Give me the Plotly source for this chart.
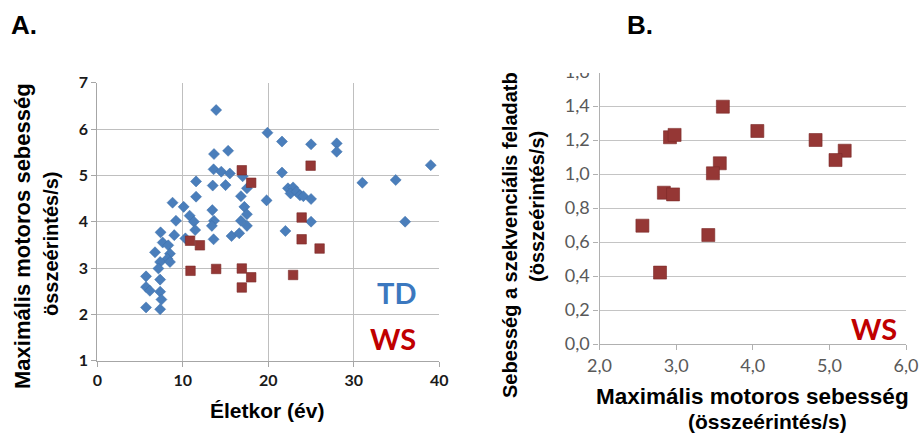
import plotly.graph_objects as go

# ---- Panel A data ----
td_age = [13.9, 19.9, 13.65, 15.3, 13.6, 14.5, 15.5, 17.0, 11.55, 13.5, 15.0, 17.5, 11.55, 16.8,
          19.8, 8.8, 10.1, 10.8, 13.45, 17.2, 17.5, 9.2, 11.3, 13.65, 13.4, 16.8, 17.5, 11.45,
          9.0, 7.4, 10.3, 13.6, 15.7, 16.6, 7.65, 8.3, 6.75, 8.5, 8.2, 7.35, 8.5, 7.15, 5.7,
          7.35, 5.7, 6.15, 7.35, 7.5, 5.7, 7.35,
          21.6, 25.0, 28.0, 28.0, 21.6, 39.0, 31.0, 34.9, 22.3, 22.9, 22.6, 23.3, 23.7, 24.1,
          25.0, 25.0, 36.0, 22.0]
td_speed = [6.41, 5.92, 5.46, 5.53, 5.13, 5.08, 5.04, 4.98, 4.87, 4.78, 4.79, 4.72, 4.54, 4.55,
            4.46, 4.41, 4.32, 4.13, 4.25, 4.32, 4.16, 4.02, 4.0, 4.02, 3.91, 4.02, 3.91, 3.82,
            3.71, 3.77, 3.64, 3.62, 3.69, 3.75, 3.55, 3.49, 3.34, 3.31, 3.20, 3.13, 3.13, 2.99, 2.82,
            2.75, 2.59, 2.51, 2.49, 2.32, 2.15, 2.11,
            5.73, 5.67, 5.69, 5.51, 5.06, 5.22, 4.84, 4.90, 4.72, 4.74, 4.61, 4.65, 4.57, 4.55,
            4.49, 4.0, 4.0, 3.80]
ws_age = [10.85, 12.0, 10.9, 13.9, 16.9, 18.0, 16.9, 18.0, 16.9, 23.9, 23.9, 26.0, 22.9, 24.95]
ws_speed = [3.59, 3.49, 2.94, 2.98, 5.11, 4.84, 2.99, 2.80, 2.58, 4.09, 3.62, 3.42, 2.85, 5.21]

# ---- Panel B data ----
wsb_motor = [3.61, 2.92, 2.98, 3.57, 3.48, 2.84, 2.96, 2.56, 3.42, 2.79, 4.06, 4.82, 5.20, 5.08]
wsb_seq = [1.396, 1.216, 1.23, 1.063, 1.004, 0.89, 0.88, 0.696, 0.641, 0.42, 1.253, 1.2, 1.137, 1.082]

a_xticks = [0, 10, 20, 30, 40]
a_yticks = [1, 2, 3, 4, 5, 6, 7]
b_xticks = [2.0, 3.0, 4.0, 5.0, 6.0]
b_yticks = [0.0, 0.2, 0.4, 0.6, 0.8, 1.0, 1.2, 1.4, 1.6]

BLUE = "#4a7ebb"
RED = "#953735"
W, H = 920, 434

fig = go.Figure()
fig.add_trace(go.Scatter(x=td_age, y=td_speed, mode="markers", xaxis="x", yaxis="y",
                         marker=dict(symbol="diamond", size=8.5, color=BLUE,
                                     line=dict(width=0.5, color="#3c6ea8")), showlegend=False))
fig.add_trace(go.Scatter(x=ws_age, y=ws_speed, mode="markers", xaxis="x", yaxis="y",
                         marker=dict(symbol="square", size=9.5, color=RED,
                                     line=dict(width=0.6, color="#7a2a28")), showlegend=False))
fig.add_trace(go.Scatter(x=wsb_motor, y=wsb_seq, mode="markers", xaxis="x2", yaxis="y2",
                         marker=dict(symbol="square", size=13, color=RED,
                                     line=dict(width=0.6, color="#7a2a28")), showlegend=False))

tickfontA = dict(family="Lato, Liberation Sans, sans-serif", size=16, color="#1a1a1a", weight=700)
tickfontB = dict(family="Lato, Liberation Sans, sans-serif", size=18, color="#595959")

fig.update_layout(
    width=W, height=H, margin=dict(l=0, r=0, t=0, b=0, autoexpand=False),
    paper_bgcolor="white", plot_bgcolor="white", separators=", ",
    xaxis=dict(domain=[97.3 / W, 439.3 / W], range=[0, 40], tickvals=a_xticks,
               showgrid=True, gridcolor="#bfbfbf", gridwidth=1.3, zeroline=False,
               showline=True, linecolor="#a6a6a6", linewidth=1.3, mirror=False,
               ticks="outside", ticklen=5, tickcolor="#a6a6a6", tickfont=tickfontA,
               anchor="y", automargin=False),
    yaxis=dict(domain=[(H - 360.7) / H, (H - 82.7) / H], range=[1, 7], tickvals=a_yticks,
               showgrid=True, gridcolor="#bfbfbf", gridwidth=1.3, zeroline=False,
               showline=True, linecolor="#a6a6a6", linewidth=1.3,
               ticks="outside", ticklen=5, tickcolor="#a6a6a6", tickfont=tickfontA,
               anchor="x", automargin=False),
    xaxis2=dict(domain=[599.5 / W, 906 / W], range=[2, 6], tickvals=b_xticks, tickformat=".1f",
                showgrid=False, zeroline=False,
                showline=True, linecolor="#b0b0b0", linewidth=1.3,
                ticks="outside", ticklen=5, tickcolor="#b0b0b0", tickfont=tickfontB,
                anchor="y2", automargin=False),
    yaxis2=dict(domain=[(H - 344) / H, (H - 72) / H], range=[0, 1.6], tickvals=b_yticks,
                tickformat=".1f",
                showgrid=True, gridcolor="#c4c4c4", gridwidth=1.3, zeroline=False,
                showline=True, linecolor="#b0b0b0", linewidth=1.3,
                ticks="outside", ticklen=5, tickcolor="#b0b0b0", tickfont=tickfontB,
                anchor="x2", automargin=False),
)

# white patch covering the top of panel B (as in the cropped reference)
fig.add_shape(type="rect", xref="paper", yref="paper", layer="above",
              x0=460 / W, x1=782 / W, y0=(H - 73) / H, y1=1.0,
              fillcolor="white", line=dict(width=0))

TF = "Liberation Sans, Arial, sans-serif"


def ann(text, x, y, size, color="black", angle=0, family=TF):
    fig.add_annotation(text=text, xref="paper", yref="paper", x=x / W, y=(H - y) / H,
                       xanchor="center", yanchor="middle", showarrow=False, textangle=angle,
                       font=dict(family=family, size=size, color=color))


ann("<b>A.</b>", 24, 25, 26)
ann("<b>B.</b>", 640, 25, 26)
ann("<b>Maximális motoros sebesség</b>", 22, 236, 22, angle=-90)
ann("<b>összeérintés/s)</b>", 51, 244, 20, angle=-90)
ann("<b>Életkor (év)</b>", 267, 410, 21)
ann("<b>TD</b>", 396, 292, 29, color="#3b78bf", family="Lato, sans-serif")
ann("<b>WS</b>", 393, 338, 29, color="#c00000", family="Lato, sans-serif")
ann("<b>Sebesség a szekvenciális feladatb</b>", 510, 235, 20, angle=-90)
ann("<b>(összeérintés/s)</b>", 537, 207, 20, angle=-90)
ann("<b>Maximális motoros sebesség</b>", 752, 396, 22.5)
ann("<b>(összeérintés/s)</b>", 767, 421, 21)
ann("<b>WS</b>", 874, 328, 29, color="#c00000", family="Lato, sans-serif")

fig.write_html("out.html", config={"displayModeBar": False},
               post_script="document.body.style.margin='0';document.body.style.overflow='hidden';")
